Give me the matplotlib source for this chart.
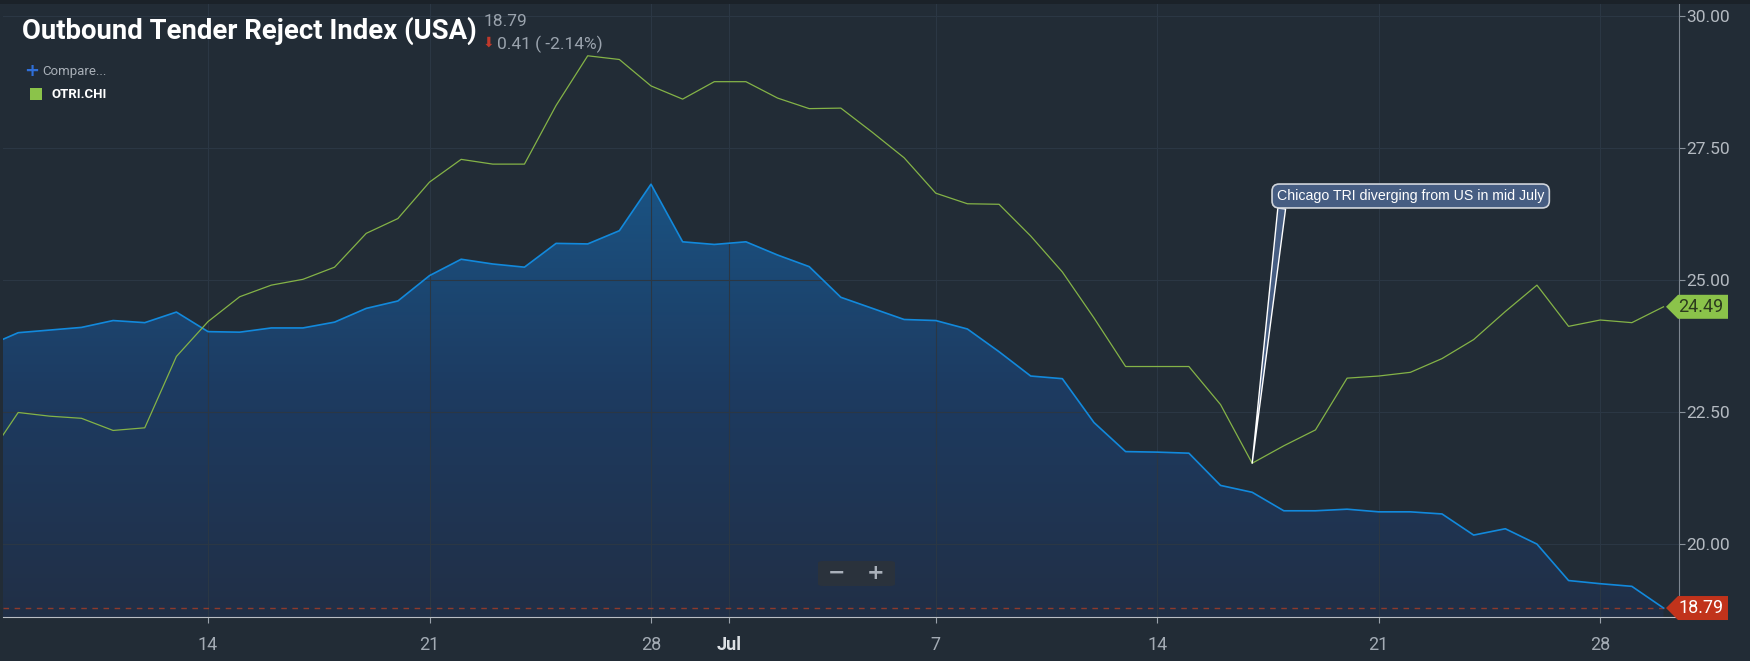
import numpy as np
import pandas as pd
import matplotlib
matplotlib.use('Agg')
from matplotlib import pyplot as plt
from matplotlib import font_manager
import matplotlib.dates as mdates
from matplotlib.colors import LinearSegmentedColormap
from matplotlib.patches import Polygon, FancyBboxPatch, Rectangle
from matplotlib.transforms import blended_transform_factory

# daily values, Jun 7 .. Jul 30
dates = pd.date_range('2019-06-07', '2019-07-30', freq='D')
usa = [23.74, 24.00, 24.05, 24.10, 24.23, 24.19, 24.39, 24.02, 24.01, 24.09,
       24.09, 24.20, 24.46, 24.60, 25.08, 25.39, 25.30, 25.24, 25.69, 25.68,
       25.93, 26.81, 25.72, 25.67,
       25.72, 25.47, 25.25, 24.67, 24.46, 24.25, 24.23, 24.07, 23.64, 23.18,
       23.13, 22.30, 21.75, 21.74, 21.72, 21.11, 20.98, 20.63, 20.63, 20.66,
       20.61, 20.61, 20.57, 20.17, 20.29, 20.00, 19.31, 19.25, 19.20, 18.79]
chi = [21.60, 22.49, 22.42, 22.38, 22.15, 22.20, 23.55, 24.21, 24.68, 24.90,
       25.01, 25.24, 25.88, 26.16, 26.85, 27.28, 27.19, 27.19, 28.30, 29.24,
       29.17, 28.67, 28.42, 28.75,
       28.75, 28.44, 28.24, 28.25, 27.79, 27.31, 26.64, 26.44, 26.43, 25.83,
       25.15, 24.28, 23.36, 23.36, 23.36, 22.64, 21.53, 21.86, 22.16, 23.14,
       23.18, 23.25, 23.51, 23.87, 24.40, 24.90, 24.12, 24.24, 24.19, 24.49]

tick_dates = ['2019-06-14 00:00', '2019-06-21 00:00', '2019-06-28 00:00',
              '2019-06-30 11:00', '2019-07-07 00:00', '2019-07-14 00:00',
              '2019-07-21 00:00', '2019-07-28 00:00']
tick_labels = ['14', '21', '28', 'Jul', '7', '14', '21', '28']
y_ticks = [20, 22.5, 25, 27.5, 30]

title = 'Outbound Tender Reject Index (USA)'
note_text = 'Chicago TRI diverging from US in mid July'
note_date = '2019-07-17'

BG = '#222c36'
BLUE = '#1289dc'
GREEN = '#84b347'

names = {f.name for f in font_manager.fontManager.ttflist}
narrow = 'Liberation Sans Narrow' if 'Liberation Sans Narrow' in names else 'Roboto'
title_size = 22 if narrow != 'Roboto' else 19.8

W, H = 1750, 661
fig = plt.figure(figsize=(W / 100, H / 100), dpi=100, facecolor=BG)
ax = fig.add_axes([3 / W, 1 - 617 / H, 1676 / W, 613 / H])
ax.set_facecolor(BG)

x = mdates.date2num(dates)
usa_a = np.array(usa)
chi_a = np.array(chi)
ymin, ymax = 18.62, 30.22

# gradient area under the US line
poly = ax.fill_between(x, usa_a, ymin, color='none', lw=0)
cmap = LinearSegmentedColormap.from_list('g', ['#212f46', '#1d3b61', '#1a5586'])
grad = np.linspace(0, 1, 256).reshape(-1, 1)
im = ax.imshow(grad, cmap=cmap, aspect='auto', origin='lower',
               extent=[x[0], x[-1], ymin, 27.2], zorder=1)
im.set_clip_path(poly.get_paths()[0], transform=ax.transData)

ax.plot(x, usa_a, color=BLUE, lw=1.2, zorder=3)
ax.plot(x, chi_a, color=GREEN, lw=0.9, zorder=3)
ax.axhline(usa[-1], color='#8e3a2c', lw=1, dashes=(4, 4), zorder=2)

ax.set_xlim(x[0] + 0.52, x[-1] + 0.49)
ax.set_ylim(ymin, ymax)

tx = mdates.date2num(pd.to_datetime(tick_dates, format='%Y-%m-%d %H:%M'))
ax.set_xticks(tx)
ax.set_xticklabels(tick_labels, family=narrow, fontsize=13, color='#a3abb4')
ax.get_xticklabels()[3].set_color('#dde1e5')
ax.get_xticklabels()[3].set_fontweight('bold')
ax.set_yticks(y_ticks)
ax.set_yticklabels(['%.2f' % v for v in y_ticks], family='Roboto',
                   fontsize=12.5, color='#b4bac1')
ax.yaxis.tick_right()
ax.tick_params(axis='x', length=4, color='#9aa2ab', pad=10)
ax.tick_params(axis='y', length=4, color='#8a939c', pad=1.5)
ax.grid(True, color='#2b3744', lw=0.8, zorder=0)
for s in ['top', 'left']:
    ax.spines[s].set_visible(False)
ax.spines['bottom'].set_color('#b9bec4')
ax.spines['right'].set_color('#7d8690')

# price tags on the right axis
fig.canvas.draw()
bt = blended_transform_factory(ax.transAxes, ax.transData)
for val, fc, tc in [(chi[-1], '#8bc34a', '#2c3b1e'), (usa[-1], '#c1331b', 'white')]:
    px, py = bt.transform((1.0, val))
    verts = [(px - 13, py), (px - 1, py + 12), (px + 49, py + 12),
             (px + 49, py - 12), (px - 1, py - 12)]
    fig.patches.append(Polygon(verts, closed=True, fc=fc, ec='none',
                               transform=None, figure=fig, zorder=5))
    fig.text((px + 22) / W, py / H, '%.2f' % val, ha='center', va='center',
             family='Roboto', fontsize=13, color=tc, zorder=6)

# annotation callout
nx = mdates.date2num(pd.Timestamp(note_date))
ny = chi[list(dates).index(pd.Timestamp(note_date))]
ax.annotate(note_text, xy=(nx, ny), xytext=(1277, H - 196),
            textcoords='figure pixels', ha='left', va='center',
            family='Liberation Sans', fontsize=10.2, color='white', zorder=7,
            bbox=dict(boxstyle='round,pad=0.35,rounding_size=0.5',
                      fc='#465d82', ec='#d0d5dc', lw=1.2),
            arrowprops=dict(arrowstyle='wedge,tail_width=0.55,shrink_factor=0.5',
                            fc='#465d82', ec='white', lw=1, relpos=(0.02, 0.0),
                            shrinkA=0, shrinkB=0))

# header
fig.patches.append(Rectangle((0, 1 - 4 / H), 1, 4 / H, transform=fig.transFigure,
                             fc='#1b2229', ec='none', figure=fig))
fig.text(22 / W, 1 - 31 / H, title, family=narrow, fontweight='bold',
         fontsize=title_size, color='white', va='center', ha='left')
fig.text(484 / W, 1 - 22 / H, '%.2f' % usa[-1], family='Roboto', fontsize=12.5,
         color='#9aa3ad', va='center', ha='left')
chg = usa[-2] - usa[-1]
fig.text(483 / W, 1 - 43 / H, '\u2b07', family='DejaVu Sans', fontsize=10,
         color='#c0392b', va='center', ha='left')
fig.text(497 / W, 1 - 44 / H, '%.2f ( -%.2f%%)' % (chg, chg / usa[-2] * 100),
         family='Roboto', fontsize=12.5, color='#9aa3ad', va='center', ha='left')

# compare / legend
fig.text(24 / W, 1 - 71 / H, '+', family='DejaVu Sans', fontsize=13,
         fontweight='bold', color='#2f6fd8', va='center', ha='left')
fig.text(42 / W, 1 - 72 / H, 'Compare...', family='Roboto', fontsize=9.5,
         color='#a9b0b8', va='center', ha='left')
fig.patches.append(Rectangle((30 / W, 1 - 100 / H), 12 / W, 12 / H,
                             transform=fig.transFigure, fc='#8bc34a', ec='none',
                             figure=fig))
fig.text(52 / W, 1 - 94 / H, 'OTRI.CHI', family='Roboto', fontsize=9.5,
         fontweight='bold', color='white', va='center', ha='left')

# zoom control
fig.patches.append(FancyBboxPatch((818 / W, 75 / H), 77 / W, 25 / H,
                                  boxstyle='round,pad=0,rounding_size=0.003',
                                  transform=fig.transFigure, fc='#2a323c',
                                  ec='none', figure=fig, zorder=4))
fig.text(837 / W, 88 / H, '\u2212', family='DejaVu Sans', fontsize=15,
         fontweight='bold', color='#a9b0ba', ha='center', va='center', zorder=5)
fig.text(876 / W, 88 / H, '+', family='DejaVu Sans', fontsize=15,
         fontweight='bold', color='#a9b0ba', ha='center', va='center', zorder=5)
fig.lines.append(plt.Line2D([858 / W, 858 / W], [80 / H, 96 / H],
                            transform=fig.transFigure, color='#3c4550', lw=1))

fig.savefig('out.png', dpi=100, facecolor=BG)
